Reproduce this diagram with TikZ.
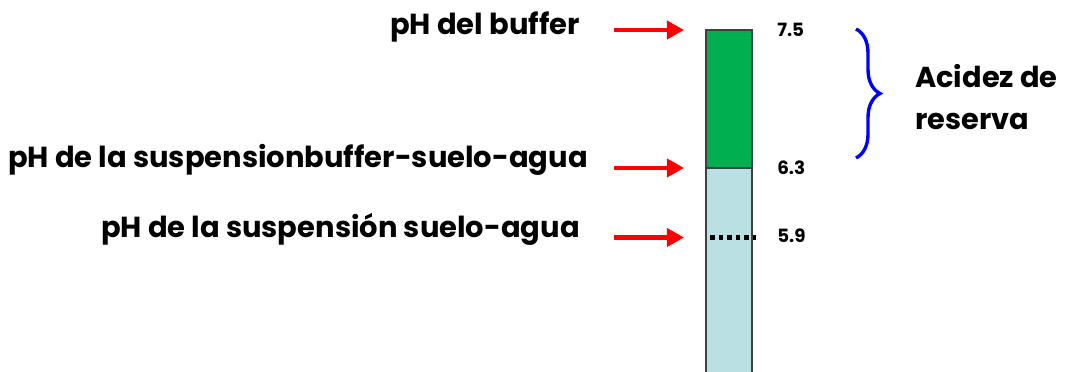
\documentclass[tikz,border=0pt]{standalone}
\usepackage{fontspec}
\setmainfont{Poppins}
\usetikzlibrary{arrows.meta,decorations.pathreplacing}
\definecolor{bargreen}{HTML}{00B050}
\definecolor{barblue}{HTML}{BBE0E3}
\tikzset{
  lbl/.style={font=\bfseries\fontsize{20.6}{24}\selectfont, anchor=base east, inner sep=0pt},
  val/.style={font=\bfseries\fontsize{13}{15}\selectfont, anchor=base west, inner sep=0pt},
  rsv/.style={font=\bfseries\fontsize{20.5}{25}\selectfont, anchor=base west, inner sep=0pt},
  redarrow/.style={red, line width=3pt, -{Triangle[length=0.43cm,width=0.45cm]}},
}
\begin{document}
\begin{tikzpicture}[x=0.025cm,y=-0.025cm]
  \useasboundingbox (0,0) rectangle (1066,372);
  % bar
  \fill[barblue] (706,168) rectangle (752,380);
  \fill[bargreen] (706,30) rectangle (752,168);
  \begin{scope}
    \clip (0,0) rectangle (1066,372);
    \draw[black!75, line width=0.8pt] (706,380) -- (706,30) -- (752,30) -- (752,380);
  \end{scope}
  \draw[black!75, line width=0.8pt] (706,168) -- (752,168);
  \draw[line width=3pt, dash pattern=on 3.2pt off 2.9pt] (710,237.5) -- (756,237.5);
  \draw
    (580,35) node[lbl] (buf){pH del buffer}
    (588,168) node[lbl] (mix){pH de la suspensionbuffer-suelo-agua}
    (580,238) node[lbl] (soil){pH de la suspensión suelo-agua}
    (777,37) node[val] (v1){7.5}
    (777,175) node[val] (v2){6.3}
    (777,243) node[val] (v3){5.9}
    (915,88) node[rsv] (acd){Acidez de}
    (915,130) node[rsv] (res){reserva};
  \coordinate (s1) at (614,30);
  \coordinate (e1) at (684,30);
  \coordinate (s2) at (614,168);
  \coordinate (e2) at (684,168);
  \coordinate (s3) at (614,237.5);
  \coordinate (e3) at (684,237.5);
  \coordinate (btop) at (856,29);
  \coordinate (bbot) at (856,158);
  \begin{scope}[redarrow]
    \draw (s1) to (e1);
    \draw (s2) to (e2);
    \draw (s3) to (e3);
  \end{scope}
  \draw[blue, line width=2.4pt, decorate, decoration={brace, amplitude=0.6cm}] (btop) to (bbot);
\end{tikzpicture}
\end{document}
